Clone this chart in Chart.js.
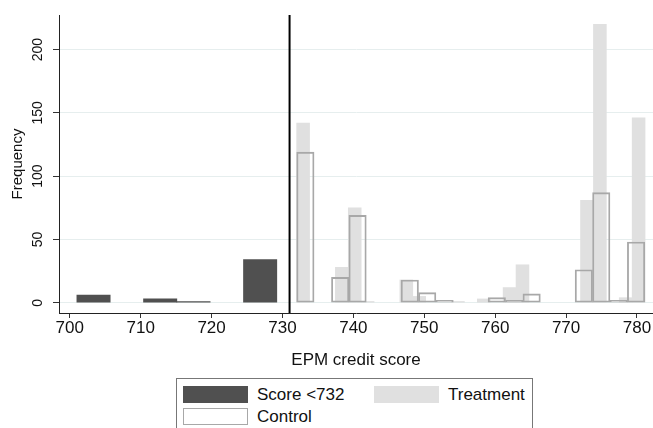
<!DOCTYPE html>
<html>
<head>
    <title>EPM credit score histogram</title>
    <script src="https://cdn.jsdelivr.net/npm/chart.js@4"></script>
    <style>
        body {
            margin: 0;
            background: #fff;
            overflow: hidden;
            font-family: 'Liberation Sans', Arial, sans-serif;
        }
        .wrap {
            position: relative;
            width: 653px;
            height: 428px;
        }
        .legend {
            position: absolute;
            left: 176px;
            top: 378px;
            width: 357px;
            height: 70px;
            border: 1px solid #777;
            background: #fff;
            box-sizing: border-box;
        }
        .item {
            position: absolute;
            display: flex;
            align-items: center;
            height: 17px;
            font-size: 17px;
            color: #111;
            white-space: nowrap;
        }
        .swatch {
            width: 65px;
            height: 17px;
            margin-right: 9px;
            box-sizing: border-box;
        }
    </style>
</head>
<body>
    <div class="wrap">
        <canvas id="hist"></canvas>
        <div class="legend">
            <div class="item" style="left:6px;top:7px"><span class="swatch" style="background:#505050"></span>Score &lt;732</div>
            <div class="item" style="left:197px;top:7px"><span class="swatch" style="background:#e0e0e0"></span>Treatment</div>
            <div class="item" style="left:6px;top:29px"><span class="swatch" style="border:1.5px solid #a8a8a8;background:#fff"></span>Control</div>
        </div>
    </div>

    <script>
        const xTicks = [700, 710, 720, 730, 740, 750, 760, 770, 780];
        const yTicks = [0, 50, 100, 150, 200];
        const xMin = 698.48, xMax = 782.26;
        const yMin = -8.1, yMax = 227.3;
        const cutoff = 731;

        // Score <732: bins of width 4.7 starting at 701
        const lowStart = 701, lowWidth = 4.7;
        const lowCounts = [6, 0, 3, 1, 0, 34];

        // Treatment: 27 bins of width 1.82 starting at 732
        const treatStart = 732, treatWidth = 1.82;
        const treatCounts = [142, 0, 0, 28, 75, 1, 0, 0, 18, 5, 0, 0, 1, 0, 3, 0,
                             12, 30, 0, 0, 0, 0, 81, 220, 0, 4, 146];

        // Control: 20 bins of width 2.455 starting at 732
        const ctrlStart = 732, ctrlWidth = 2.455;
        const ctrlCounts = [119, 0, 20, 69, 0, 0, 18, 8, 2, 0, 0, 4, 2, 7, 0, 0, 26, 87, 2, 48];

        function binsToPoints(start, width, counts) {
            const pts = [];
            counts.forEach((c, k) => {
                if (c > 0) pts.push({ x: start + (k + 0.5) * width, y: c });
            });
            return pts;
        }

        const cutoffLine = {
            id: 'cutoffLine',
            afterDatasetsDraw(chart) {
                const { ctx, chartArea, scales: { x } } = chart;
                const px = x.getPixelForValue(cutoff);
                ctx.save();
                ctx.strokeStyle = '#000';
                ctx.lineWidth = 2;
                ctx.beginPath();
                ctx.moveTo(px, chartArea.top);
                ctx.lineTo(px, chartArea.bottom);
                ctx.stroke();
                ctx.restore();
            }
        };

        Chart.defaults.font.family = "'Liberation Sans', Arial, sans-serif";
        Chart.defaults.color = '#111';

        const chart = new Chart(document.getElementById('hist'), {
            type: 'bar',
            data: {
                datasets: [
                    {
                        label: 'Score <732',
                        data: binsToPoints(lowStart, lowWidth, lowCounts),
                        binWidth: lowWidth,
                        backgroundColor: '#505050',
                        borderWidth: 0
                    },
                    {
                        label: 'Control',
                        data: binsToPoints(ctrlStart, ctrlWidth, ctrlCounts),
                        binWidth: ctrlWidth,
                        backgroundColor: 'rgba(0,0,0,0)',
                        borderColor: '#a8a8a8',
                        borderWidth: 1.2,
                        borderSkipped: false
                    },
                    {
                        label: 'Treatment',
                        data: binsToPoints(treatStart, treatWidth, treatCounts),
                        binWidth: treatWidth,
                        backgroundColor: '#e0e0e0',
                        borderWidth: 0
                    }
                ]
            },
            options: {
                responsive: true,
                maintainAspectRatio: false,
                animation: false,
                grouped: false,
                layout: { padding: { top: 15, right: 0, bottom: 57, left: 0 } },
                plugins: {
                    legend: { display: false },
                    tooltip: { enabled: false }
                },
                scales: {
                    x: {
                        type: 'linear',
                        min: xMin,
                        max: xMax,
                        offset: false,
                        afterBuildTicks: s => { s.ticks = xTicks.map(v => ({ value: v })); },
                        afterFit: s => { s.height = 58; },
                        ticks: { font: { size: 17 }, padding: 0, autoSkip: false, maxRotation: 0 },
                        grid: { offset: false, drawOnChartArea: false, tickLength: 5, tickColor: '#333' },
                        border: { color: '#222', width: 1 },
                        title: { display: true, text: 'EPM credit score', font: { size: 17 }, padding: 0 }
                    },
                    y: {
                        min: yMin,
                        max: yMax,
                        afterBuildTicks: s => { s.ticks = yTicks.map(v => ({ value: v })); },
                        afterFit: s => { s.width = 59; },
                        ticks: { font: { size: 14 }, minRotation: 90, maxRotation: 90, crossAlign: 'center', padding: 3 },
                        grid: { color: '#e6eeee', tickColor: '#333', tickLength: 6 },
                        border: { color: '#222', width: 1 },
                        title: { display: true, text: 'Frequency', font: { size: 15 }, padding: { top: 9, bottom: 0 } }
                    }
                }
            },
            plugins: [cutoffLine]
        });

        // bar widths follow each histogram's bin width on the x scale
        const xs = chart.scales.x;
        chart.data.datasets.forEach(ds => {
            ds.barThickness = Math.abs(xs.getPixelForValue(xMin + ds.binWidth) - xs.getPixelForValue(xMin));
        });
        chart.update('none');
    </script>
</body>
</html>
